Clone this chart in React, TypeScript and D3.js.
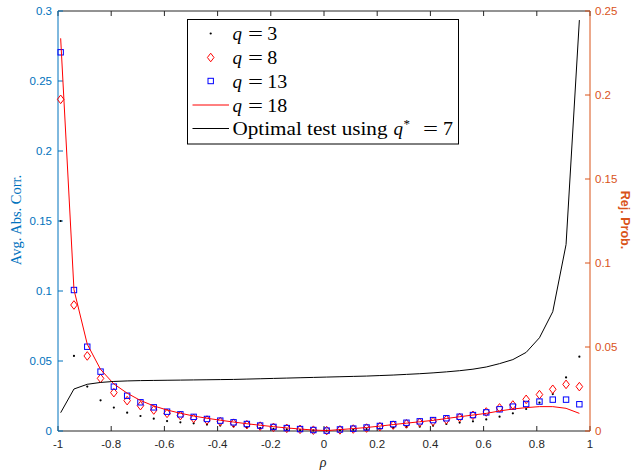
import React from "react";
import * as d3 from "d3";

const rho = [-0.99, -0.94, -0.89, -0.84, -0.79, -0.74, -0.69, -0.64, -0.59, -0.54, -0.49, -0.44, -0.39, -0.34, -0.29, -0.24, -0.19, -0.14, -0.09, -0.04, 0.01, 0.06, 0.11, 0.16, 0.21, 0.26, 0.31, 0.36, 0.41, 0.46, 0.51, 0.56, 0.61, 0.66, 0.71, 0.76, 0.81, 0.86, 0.91, 0.96];

const q3 = [0.150, 0.0536, 0.0317, 0.0219, 0.0167, 0.0131, 0.0107, 0.0088, 0.0071, 0.0062, 0.0055, 0.0046, 0.0039, 0.0032, 0.0026, 0.0020, 0.0015, 0.0011, 0.0007, 0.0004, 0.0003, 0.0006, 0.0009, 0.0013, 0.0018, 0.0023, 0.0027, 0.0031, 0.0038, 0.0050, 0.0060, 0.0069, 0.0083, 0.0102, 0.0126, 0.0157, 0.0202, 0.0264, 0.0383, 0.0531];

const q8 = [0.2369, 0.090, 0.0536, 0.0376, 0.0274, 0.0217, 0.0181, 0.0150, 0.0126, 0.0110, 0.0090, 0.0078, 0.0067, 0.0056, 0.0045, 0.0035, 0.0026, 0.0019, 0.0012, 0.0006, 0.0003, 0.0008, 0.0014, 0.0021, 0.0031, 0.0042, 0.0051, 0.0061, 0.0068, 0.0081, 0.0096, 0.0112, 0.0136, 0.0165, 0.0186, 0.0226, 0.0260, 0.0298, 0.0333, 0.0317];

const q13 = [0.2705, 0.1007, 0.0602, 0.0424, 0.0317, 0.0252, 0.0205, 0.0169, 0.0138, 0.0119, 0.0101, 0.0086, 0.0074, 0.0062, 0.0050, 0.0039, 0.0029, 0.0021, 0.0014, 0.0007, 0.0003, 0.0011, 0.0017, 0.0025, 0.0036, 0.0049, 0.0059, 0.0069, 0.0078, 0.0091, 0.0102, 0.0114, 0.0133, 0.0155, 0.0174, 0.0193, 0.0210, 0.0224, 0.0224, 0.0191];

const q18 = [0.2805, 0.1010, 0.0620, 0.0440, 0.0336, 0.0270, 0.0218, 0.0179, 0.0150, 0.0127, 0.0107, 0.0091, 0.0077, 0.0064, 0.0052, 0.0041, 0.0031, 0.0022, 0.0014, 0.0007, 0.0003, 0.0010, 0.0017, 0.0025, 0.0035, 0.0046, 0.0056, 0.0066, 0.0076, 0.0089, 0.0102, 0.0114, 0.0126, 0.0143, 0.0157, 0.0167, 0.0174, 0.0174, 0.0162, 0.0126];

const optimal = [0.0109, 0.0250, 0.0278, 0.0289, 0.0295, 0.0298, 0.0300, 0.0301, 0.0302, 0.0303, 0.0304, 0.0305, 0.0306, 0.0307, 0.0309, 0.0311, 0.0313, 0.0315, 0.0317, 0.0319, 0.0321, 0.0323, 0.0325, 0.0327, 0.0330, 0.0333, 0.0337, 0.0341, 0.0346, 0.0352, 0.0359, 0.0368, 0.0381, 0.0401, 0.0425, 0.0468, 0.0555, 0.0710, 0.1110, 0.2446];

const xTicks = [-1, -0.8, -0.6, -0.4, -0.2, 0, 0.2, 0.4, 0.6, 0.8, 1];
const xTickLabels = ["-1", "-0.8", "-0.6", "-0.4", "-0.2", "0", "0.2", "0.4", "0.6", "0.8", "1"];
const yLeftTicks = [0, 0.05, 0.1, 0.15, 0.2, 0.25, 0.3];
const yLeftLabels = ["0", "0.05", "0.1", "0.15", "0.2", "0.25", "0.3"];
const yRightTicks = [0, 0.05, 0.1, 0.15, 0.2, 0.25];
const yRightLabels = ["0", "0.05", "0.1", "0.15", "0.2", "0.25"];
const legendValues = ["3", "8", "13", "18"];

const W = 634, H = 471;
const L = 58, R = 590, T = 11, B = 431;
const BLUE = "#0072BD";
const ORANGE = "#D95319";
const AX = "#262626";
const tickFont = "'Liberation Sans', Arial, sans-serif";
const serif = "'Liberation Serif', 'Times New Roman', serif";

export default function App() {
  const x = d3.scaleLinear().domain([-1, 1]).range([L, R]);
  const yL = d3.scaleLinear().domain([0, 0.3]).range([B, T]);
  const yR = d3.scaleLinear().domain([0, 0.25]).range([B, T]);
  const lineL = d3.line<number>().x((_, i) => x(rho[i])).y((d) => yL(d));
  const lineR = d3.line<number>().x((_, i) => x(rho[i])).y((d) => yR(d));
  const diamond = (cx: number, cy: number) => `M${cx},${cy - 4.3}L${cx + 3.3},${cy}L${cx},${cy + 4.3}L${cx - 3.3},${cy}Z`;
  const tl = 5;

  const legRows = [33.5, 57.5, 81, 105, 128.5];
  const legX0 = 187.5, legY0 = 19.5, legW = 271, legH = 124.5;
  const symX = 210.7;
  const textX = 232.5;
  const fs = 19;

  const eqText = (key: string, xq: number, y: number, star: boolean, val: string) => (
    <g key={key}>
      <text x={xq} y={y} fontFamily={serif} fontStyle="italic" fontSize={fs} fill="#000">q</text>
      {star && (
        <text x={xq + 10} y={y - 7} fontFamily={serif} fontSize={13} fill="#000">*</text>
      )}
      <text x={xq + (star ? 29.5 : 15.5)} y={y} fontFamily={serif} fontSize={fs} fill="#000" textLength={15} lengthAdjust="spacingAndGlyphs">=</text>
      <text x={xq + (star ? 49.5 : 34.8)} y={y} fontFamily={serif} fontSize={fs} fill="#000" textLength={10 * val.length} lengthAdjust="spacingAndGlyphs">{val}</text>
    </g>
  );

  return (
    <svg width={W} height={H} style={{ position: "absolute", left: 0, top: 0, background: "#fff" }}>
      <rect x={0} y={0} width={W} height={H} fill="#fff" />
      <line x1={L} x2={R} y1={T} y2={T} stroke={AX} strokeWidth={1} />
      <line x1={L} x2={R} y1={B} y2={B} stroke={AX} strokeWidth={1} />
      {xTicks.map((t, i) => (
        <g key={"xt" + i}>
          <line x1={x(t)} x2={x(t)} y1={B} y2={B - tl} stroke={AX} />
          <line x1={x(t)} x2={x(t)} y1={T} y2={T + tl} stroke={AX} />
          <text x={x(t)} y={448} textAnchor="middle" fontFamily={tickFont} fontSize={11.5} fill={AX}>
            {xTickLabels[i]}
          </text>
        </g>
      ))}
      <line x1={L} x2={L} y1={T} y2={B} stroke={BLUE} />
      {yLeftTicks.map((t, i) => (
        <g key={"yl" + i}>
          <line x1={L} x2={L + tl} y1={yL(t)} y2={yL(t)} stroke={BLUE} />
          <text x={L - 6} y={yL(t) + 4} textAnchor="end" fontFamily={tickFont} fontSize={11.5} fill={BLUE}>
            {yLeftLabels[i]}
          </text>
        </g>
      ))}
      <line x1={R} x2={R} y1={T} y2={B} stroke={ORANGE} />
      {yRightTicks.map((t, i) => (
        <g key={"yr" + i}>
          <line x1={R} x2={R - tl} y1={yR(t)} y2={yR(t)} stroke={ORANGE} />
          <text x={R + 5} y={yR(t) + 4} textAnchor="start" fontFamily={tickFont} fontSize={11.5} fill={ORANGE}>
            {yRightLabels[i]}
          </text>
        </g>
      ))}
      <text transform={`translate(20.5,220) rotate(-90)`} textAnchor="middle" fontFamily={serif} fontSize={14.5} fill={BLUE}>
        Avg. Abs. Corr.
      </text>
      <text transform={`translate(621,220) rotate(90)`} textAnchor="middle" fontFamily={tickFont} fontWeight="bold" fontSize={12.5} fill={ORANGE}>
        Rej. Prob.
      </text>
      <text x={323} y={467} textAnchor="middle" fontFamily={serif} fontStyle="italic" fontSize={14} fill={AX}>
        ρ
      </text>

      {q3.map((d, i) => (
        <circle key={"d3" + i} cx={x(rho[i])} cy={yL(d)} r={1.1} fill="#000" />
      ))}
      {q8.map((d, i) => (
        <path key={"d8" + i} d={diamond(x(rho[i]), yL(d))} fill="none" stroke="#FF0000" strokeWidth={1} />
      ))}
      {q13.map((d, i) => (
        <rect key={"d13" + i} x={x(rho[i]) - 2.7} y={yL(d) - 2.7} width={5.4} height={5.4} fill="none" stroke="#0000FF" strokeWidth={1} />
      ))}
      <path d={lineL(q18) || ""} fill="none" stroke="#FF0000" strokeWidth={1} />
      <path d={lineR(optimal) || ""} fill="none" stroke="#000" strokeWidth={1} />

      <rect x={legX0} y={legY0} width={legW} height={legH} fill="#fff" stroke="#000" strokeWidth={1} />
      <circle cx={symX} cy={legRows[0]} r={1.1} fill="#000" />
      <path d={diamond(symX, legRows[1])} fill="none" stroke="#FF0000" />
      <rect x={symX - 2.7} y={legRows[2] - 2.7} width={5.4} height={5.4} fill="none" stroke="#0000FF" />
      <line x1={192.5} x2={229} y1={legRows[3]} y2={legRows[3]} stroke="#FF0000" />
      <line x1={192.5} x2={229} y1={legRows[4]} y2={legRows[4]} stroke="#000" />
      {legendValues.map((v, i) => eqText("lt" + i, textX, legRows[i] + 6.5, false, v))}
      <text x={textX} y={legRows[4] + 6.5} fontFamily={serif} fontSize={fs} fill="#000" textLength={155} lengthAdjust="spacingAndGlyphs">
        Optimal test using
      </text>
      {eqText("lt4", 393.5, legRows[4] + 6.5, true, "7")}
    </svg>
  );
}
